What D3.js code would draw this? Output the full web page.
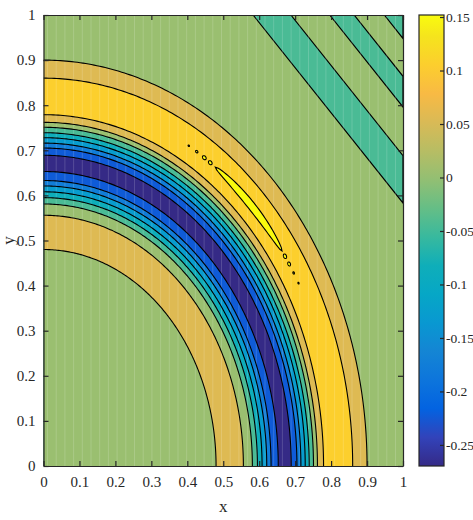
<!DOCTYPE html>
<html>
<head>
<meta charset="utf-8">
<script src="https://cdn.jsdelivr.net/npm/d3@7"></script>
<style>
  body { margin: 0; background: #fff; }
  svg { display: block; }
  svg text { font-family: "Liberation Serif", serif; }
</style>
</head>
<body>
<div id="chart"></div>
<script>
// contour levels, lowest to highest
const levels = [-0.27, -0.223, -0.176, -0.129, -0.085, -0.045, 0.004, 0.056, 0.106, 0.152]

// radii of the circular contour lines, centre outwards
const ringRadii = [0.48, 0.556, 0.581, 0.595, 0.608, 0.621, 0.633, 0.653, 0.689, 0.705, 0.716, 0.728, 0.739, 0.751, 0.762, 0.779, 0.86, 0.9]
// level index of the band inside each radius (last entry = outside the last ring)
const ringBands = [6, 7, 6, 5, 4, 3, 2, 1, 0, 1, 2, 3, 4, 5, 6, 7, 8, 7, 6]

// diagonal bands in the top right corner, as x + y ranges, and their level index
const diagBands = [[1.583, 1.688], [1.796, 1.864], [1.948, 2.02]]
const diagBand = 5

// thin islands above the top level along the ridge: [start deg, end deg, half width]
const ridgeRadius = 0.817
const peakIslands = [
  [35.7, 54.2, 0.0095],
  [55.0, 55.8, 0.0040], [56.4, 57.2, 0.0040], [58.3, 58.8, 0.0025], [60.2, 60.5, 0.0015],
  [34.3, 35.1, 0.0040], [32.9, 33.6, 0.0035], [31.4, 31.8, 0.0020], [29.6, 29.9, 0.0015]
]
const peakBand = 9

// axes
const xTicks = [0, 0.1, 0.2, 0.3, 0.4, 0.5, 0.6, 0.7, 0.8, 0.9, 1]
const yTicks = [0, 0.1, 0.2, 0.3, 0.4, 0.5, 0.6, 0.7, 0.8, 0.9, 1]
const cbarTicks = [-0.25, -0.2, -0.15, -0.1, -0.05, 0, 0.05, 0.1, 0.15]
const cbarLabels = ["-0.25", "-0.2", "-0.15", "-0.1", "-0.05", "0", "0.05", "0.1", "0.15"]
const cmin = -0.2697, cmax = 0.1519

// parula, every 4th entry of the 64 colour map
const parulaIdx = [0, 4, 8, 12, 16, 20, 24, 28, 32, 36, 40, 44, 48, 52, 56, 60, 63]
const parula = ["#352A87", "#3243BA", "#0363E1", "#0D75DC", "#1485D4", "#0998D1", "#06A7C6", "#0FAEB9",
  "#38B99E", "#65BE86", "#92BF73", "#B7BD64", "#D9BA56", "#F8BA44", "#FCCE2E", "#F5E41D", "#F9FB0E"]

const W = 473, H = 520
const svg = d3.select("#chart").append("svg").attr("width", W).attr("height", H)

const x = d3.scaleLinear([0, 1], [43.5, 403])
const y = d3.scaleLinear([0, 1], [466, 15])
const color = d3.scaleLinear()
  .domain(parulaIdx.map(i => cmin + (i / 63) * (cmax - cmin)))
  .range(parula)
  .interpolate(d3.interpolateRgb)
const fillOf = k => color(levels[k])

svg.append("clipPath").attr("id", "plot-clip")
  .append("rect")
  .attr("x", x(0)).attr("y", y(1))
  .attr("width", x(1) - x(0)).attr("height", y(0) - y(1))

const g = svg.append("g").attr("clip-path", "url(#plot-clip)")
const line = d3.line().x(d => x(d[0])).y(d => y(d[1]))
const deg = d3.range(0, 90.5, 0.5)
const arcPts = r => deg.map(a => [r * Math.cos(a * Math.PI / 180), r * Math.sin(a * Math.PI / 180)])

// outside band
g.append("rect")
  .attr("x", x(0)).attr("y", y(1))
  .attr("width", x(1) - x(0)).attr("height", y(0) - y(1))
  .attr("fill", fillOf(ringBands[ringBands.length - 1]))

// rings, painted from the outside in
for (let i = ringRadii.length - 1; i >= 0; i--) {
  g.append("path")
    .attr("d", line([[0, 0], ...arcPts(ringRadii[i]), [0, 0]]))
    .attr("fill", fillOf(ringBands[i]))
}

// diagonal bands
diagBands.forEach(([c0, c1]) => {
  g.append("path")
    .attr("d", line([[c0 - 1, 1], [1, c0 - 1], [1, c1 - 1], [c1 - 1, 1]]) + "Z")
    .attr("fill", fillOf(diagBand))
    .attr("stroke", "#000")
    .attr("stroke-width", 1.2)
})

// faint vertical streaks left by the exported surface
g.append("g")
  .selectAll("line")
  .data(d3.range(x(0) + 4, x(1), 8.7))
  .join("line")
  .attr("x1", d => d).attr("x2", d => d)
  .attr("y1", y(1)).attr("y2", y(0))
  .attr("stroke", "#fff").attr("stroke-opacity", 0.16).attr("stroke-width", 1)

// ring contour lines
ringRadii.forEach(r => {
  g.append("path")
    .attr("d", line(arcPts(r)))
    .attr("fill", "none")
    .attr("stroke", "#000")
    .attr("stroke-width", 1.1)
})

// ridge islands
const islandLine = d3.line().x(d => x(d[0])).y(d => y(d[1])).curve(d3.curveLinearClosed)
peakIslands.forEach(([a0, a1, hw]) => {
  const steps = d3.range(0, 1.0001, 1 / 40)
  const pt = (s, sign) => {
    const a = (a0 + s * (a1 - a0)) * Math.PI / 180
    const r = ridgeRadius + sign * hw * Math.sqrt(Math.sin(Math.PI * s))
    return [r * Math.cos(a), r * Math.sin(a)]
  }
  const pts = steps.map(s => pt(s, 1)).concat(steps.slice().reverse().map(s => pt(s, -1)))
  g.append("path")
    .attr("d", islandLine(pts))
    .attr("fill", fillOf(peakBand))
    .attr("stroke", "#000")
    .attr("stroke-width", 1.1)
})

// axes, box and inward ticks
const fmt = d => (d === 0 || d === 1) ? String(d) : d.toFixed(1)
const axisStyle = sel => {
  sel.attr("font-family", "Liberation Serif").attr("font-size", 15)
  sel.select(".domain").attr("stroke", "#262626").attr("stroke-width", 1.2)
  sel.selectAll(".tick line").attr("stroke", "#262626").attr("stroke-width", 1.2)
  sel.selectAll(".tick text").attr("fill", "#262626")
}

svg.append("g").attr("transform", `translate(0,${y(0)})`)
  .call(d3.axisBottom(x).tickValues(xTicks).tickFormat(fmt).tickSizeInner(-5).tickSizeOuter(0).tickPadding(10))
  .call(axisStyle)
svg.append("g").attr("transform", `translate(${x(0)},0)`)
  .call(d3.axisLeft(y).tickValues(yTicks).tickFormat(fmt).tickSizeInner(-5).tickSizeOuter(0).tickPadding(8))
  .call(axisStyle)
svg.append("g").attr("transform", `translate(0,${y(1)})`)
  .call(d3.axisTop(x).tickValues(xTicks).tickFormat("").tickSizeInner(-5).tickSizeOuter(0))
  .call(axisStyle)
svg.append("g").attr("transform", `translate(${x(1)},0)`)
  .call(d3.axisRight(y).tickValues(yTicks).tickFormat("").tickSizeInner(-5).tickSizeOuter(0))
  .call(axisStyle)

svg.append("text")
  .attr("x", x(0.5)).attr("y", 512)
  .attr("text-anchor", "middle")
  .attr("font-size", "17px").attr("fill", "#262626")
  .text("x")
svg.append("text")
  .attr("transform", `translate(14,${y(0.5)}) rotate(-90)`)
  .attr("text-anchor", "middle")
  .attr("font-size", "17px").attr("fill", "#262626")
  .text("y")

// colour bar
const cb = { x0: 419, x1: 444 }
const cy = d3.scaleLinear([cmin, cmax], [466, 15])
const grad = svg.append("defs").append("linearGradient")
  .attr("id", "cbar-grad").attr("x1", 0).attr("y1", 1).attr("x2", 0).attr("y2", 0)
grad.selectAll("stop").data(parulaIdx).join("stop")
  .attr("offset", i => i / 63)
  .attr("stop-color", (i, k) => parula[k])

svg.append("rect")
  .attr("x", cb.x0).attr("y", cy(cmax))
  .attr("width", cb.x1 - cb.x0).attr("height", cy(cmin) - cy(cmax))
  .attr("fill", "url(#cbar-grad)")

svg.append("g").attr("transform", `translate(${cb.x1},0)`)
  .call(d3.axisRight(cy).tickValues(cbarTicks).tickFormat((d, i) => cbarLabels[i])
    .tickSizeInner(-4).tickSizeOuter(0).tickPadding(2))
  .call(axisStyle)
  .attr("font-size", 13.5)
  .call(s => s.select(".domain").remove())

svg.append("rect")
  .attr("x", cb.x0).attr("y", cy(cmax))
  .attr("width", cb.x1 - cb.x0).attr("height", cy(cmin) - cy(cmax))
  .attr("fill", "none").attr("stroke", "#262626").attr("stroke-width", 1.2)
</script>
</body>
</html>
